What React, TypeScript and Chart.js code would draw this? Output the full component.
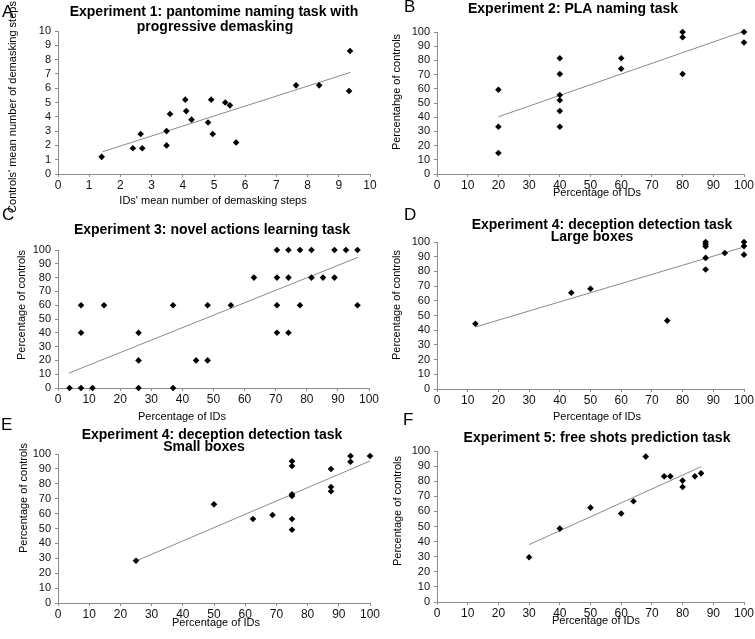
import React, { useEffect, useRef } from "react";
import { Chart, registerables } from "chart.js";
Chart.register(...registerables);

// ---------- Data ----------
// Panel A: Experiment 1 (pantomime naming, demasking steps)
const aIDs = [1.4, 2.4, 2.65, 2.7, 3.48, 3.48, 3.59, 4.08, 4.11, 4.28, 4.81, 4.91, 4.96, 5.36, 5.51, 5.71, 7.63, 8.37, 9.36, 9.33];
const aControls = [1.2, 1.8, 2.8, 1.8, 3.0, 2.0, 4.2, 5.2, 4.4, 3.8, 3.6, 5.2, 2.8, 5.0, 4.8, 2.2, 6.2, 6.2, 8.6, 5.8];
const aTrendX = [1.43, 9.38];
const aTrendY = [1.56, 7.11];

// Panel B: Experiment 2 (PLA naming)
const bIDs = [20, 20, 20, 40, 40, 40, 40, 40, 40, 60, 60, 80, 80, 80, 100, 100];
const bControls = [59.3, 33.3, 14.8, 81.5, 70.4, 55.6, 51.9, 44.4, 33.3, 81.5, 74.1, 100, 96.3, 70.4, 100, 92.6];
const bTrendX = [20, 100];
const bTrendY = [40.3, 100.5];

// Panel C: Experiment 3 (novel actions learning)
const cIDs = [
  70.4, 74.1, 77.8, 81.5, 88.9, 92.6, 96.3,
  63.0, 70.4, 74.1, 81.5, 85.2, 88.9,
  7.4, 14.8, 37.0, 48.1, 55.6, 70.4, 77.8, 96.3,
  7.4, 25.9, 70.4, 74.1,
  25.9, 44.4, 48.1,
  3.7, 7.4, 11.1, 25.9, 37.0,
];
const cControls = [
  100, 100, 100, 100, 100, 100, 100,
  80, 80, 80, 80, 80, 80,
  60, 60, 60, 60, 60, 60, 60, 60,
  40, 40, 40, 40,
  20, 20, 20,
  0, 0, 0, 0, 0,
];
const cTrendX = [3.5, 96.5];
const cTrendY = [10.8, 94.7];

// Panel D: Experiment 4, large boxes
const dIDs = [12.5, 43.75, 50, 75, 87.5, 87.5, 87.5, 87.5, 87.5, 93.75, 100, 100, 100];
const dControls = [44.4, 65.5, 68.2, 46.5, 100, 98.5, 97, 89.2, 81.3, 92.5, 100, 97.2, 91.4];
const dTrendX = [12.5, 100];
const dTrendY = [42.2, 96.6];

// Panel E: Experiment 4, small boxes
const eIDs = [25, 50, 62.5, 68.75, 75, 75, 75, 75, 75, 75, 87.5, 87.5, 87.5, 93.75, 93.75, 100];
const eControls = [28.4, 66.2, 56.4, 59.1, 95.1, 91.9, 73.0, 71.8, 56.4, 49.2, 89.9, 77.9, 75.0, 98.7, 94.8, 98.7];
const eTrendX = [25, 100];
const eTrendY = [28.2, 95.3];

// Panel F: Experiment 5 (free shots prediction)
const fIDs = [30, 40, 50, 60, 64, 68, 74, 76, 80, 80, 84, 86];
const fControls = [29.6, 48.6, 62.5, 58.6, 66.7, 96.3, 83.2, 83.2, 80.4, 76.2, 83.2, 85.2];
const fTrendX = [30, 86];
const fTrendY = [38.0, 89.6];

// Texts
const letters = ["A", "B", "C", "D", "E", "F"];
const titlesA = ["Experiment 1: pantomime naming task with", "progressive demasking"];
const titlesB = ["Experiment 2: PLA naming task"];
const titlesC = ["Experiment 3: novel actions learning task"];
const titlesD = ["Experiment 4: deception detection task", "Large boxes"];
const titlesE = ["Experiment 4: deception detection task", "Small boxes"];
const titlesF = ["Experiment 5: free shots prediction task"];
const xTitleA = "IDs' mean number of demasking steps";
const yTitleA = "Controls' mean number of demasking steps";
const xTitlePct = "Percentage of IDs";
const yTitleB = "Percentahge of controls";
const yTitlePct = "Percentage of controls";

// ---------- Layout / style ----------
const FAMILY = "'Liberation Sans', Arial, sans-serif";
const AXIS_COLOR = "#8c8c8c";

type Txt = { text: string; x: number; y: number; font: string; rotate?: number; baseline?: CanvasTextBaseline; align?: CanvasTextAlign };

const titleFont = `bold 14px ${FAMILY}`;
const axisFont = `11px ${FAMILY}`;
const letterFont = `17px ${FAMILY}`;

function pts(xs: number[], ys: number[]) {
  return xs.map((x, i) => ({ x, y: ys[i] }));
}

type Panel = {
  ox: number; oy: number; w: number; h: number;
  L: number; R: number; T: number; B: number;
  xMax: number; step: number;
  points: { x: number; y: number }[];
  trend: { x: number; y: number }[];
  texts: Txt[];
};

function mkTexts(letter: string, lx: number, ly: number, titles: string[], titlePos: number[][], xt: string, xtPos: number[], yt: string, ytPos: number[]): Txt[] {
  const arr: Txt[] = [];
  arr.push({ text: letter, x: lx, y: ly, font: letterFont, align: "left" });
  titles.forEach((t, i) => arr.push({ text: t, x: titlePos[i][0], y: titlePos[i][1], font: titleFont }));
  arr.push({ text: xt, x: xtPos[0], y: xtPos[1], font: axisFont, baseline: "middle" });
  arr.push({ text: yt, x: ytPos[0], y: ytPos[1], font: axisFont, baseline: "middle", rotate: -Math.PI / 2 });
  return arr;
}

const panels: Panel[] = [
  {
    ox: 0, oy: 0, w: 390, h: 218, L: 58, R: 370, T: 31, B: 174, xMax: 10, step: 1,
    points: pts(aIDs, aControls), trend: pts(aTrendX, aTrendY),
    texts: mkTexts(letters[0], 2, 17, titlesA, [[214, 16], [215, 31]], xTitleA, [213, 201], yTitleA, [13, 107]),
  },
  {
    ox: 375, oy: 0, w: 395, h: 218, L: 437, R: 744, T: 32, B: 174, xMax: 100, step: 10,
    points: pts(bIDs, bControls), trend: pts(bTrendX, bTrendY),
    texts: mkTexts(letters[1], 404, 12, titlesB, [[573, 13]], xTitlePct, [597, 193], yTitleB, [397, 92]),
  },
  {
    ox: 0, oy: 200, w: 390, h: 224, L: 58, R: 369, T: 250, B: 388, xMax: 100, step: 10,
    points: pts(cIDs, cControls), trend: pts(cTrendX, cTrendY),
    texts: mkTexts(letters[2], 2, 220, titlesC, [[212, 234]], xTitlePct, [182, 417], yTitlePct, [22, 305]),
  },
  {
    ox: 375, oy: 200, w: 395, h: 224, L: 437, R: 744, T: 242, B: 389, xMax: 100, step: 10,
    points: pts(dIDs, dControls), trend: pts(dTrendX, dTrendY),
    texts: mkTexts(letters[3], 404, 220, titlesD, [[602, 229], [592, 241]], xTitlePct, [597, 417], yTitlePct, [397, 305]),
  },
  {
    ox: 0, oy: 410, w: 390, h: 229, L: 58, R: 370, T: 454, B: 603, xMax: 100, step: 10,
    points: pts(eIDs, eControls), trend: pts(eTrendX, eTrendY),
    texts: mkTexts(letters[4], 1, 430, titlesE, [[212, 439], [204, 451]], xTitlePct, [216, 623], yTitlePct, [24, 498]),
  },
  {
    ox: 375, oy: 410, w: 395, h: 229, L: 437, R: 744, T: 451, B: 602, xMax: 100, step: 10,
    points: pts(fIDs, fControls), trend: pts(fTrendX, fTrendY),
    texts: mkTexts(letters[5], 403, 425, titlesF, [[597, 442]], xTitlePct, [596, 621], yTitlePct, [398, 511]),
  },
];

function makeChart(canvas: HTMLCanvasElement, p: Panel) {
  const textPlugin = {
    id: "panelText",
    afterDraw(chart: any) {
      const ctx = chart.ctx as CanvasRenderingContext2D;
      for (const t of p.texts) {
        ctx.save();
        ctx.font = t.font;
        ctx.fillStyle = "#000";
        ctx.textAlign = t.align || "center";
        ctx.textBaseline = t.baseline || "alphabetic";
        ctx.translate(t.x - p.ox, t.y - p.oy);
        if (t.rotate) ctx.rotate(t.rotate);
        ctx.fillText(t.text, 0, 0);
        ctx.restore();
      }
    },
  };
  const yWidth = p.L - p.ox;
  const xHeight = p.oy + p.h - p.B;
  return new Chart(canvas, {
    type: "scatter",
    data: {
      datasets: [
        {
          data: p.trend,
          showLine: true,
          borderColor: "#8a8a8a",
          borderWidth: 1,
          pointRadius: 0,
          order: 2,
        } as any,
        {
          data: p.points,
          pointStyle: "rectRot",
          pointRadius: 3.3,
          pointHoverRadius: 3.3,
          backgroundColor: "#000",
          borderColor: "#000",
          borderWidth: 0,
          clip: false,
          order: 1,
        } as any,
      ],
    },
    options: {
      responsive: false,
      animation: false,
      events: [],
      layout: { padding: { left: 0, top: p.T - p.oy, right: p.ox + p.w - p.R, bottom: 0 } },
      plugins: { legend: { display: false }, tooltip: { enabled: false }, title: { display: false } },
      scales: {
        x: {
          type: "linear",
          min: 0,
          max: p.xMax,
          ticks: { stepSize: p.step, autoSkip: false, color: "#111", font: { family: FAMILY, size: 12 }, padding: 1, maxRotation: 0 },
          grid: { display: true, drawOnChartArea: false, drawTicks: true, tickLength: 3, color: AXIS_COLOR },
          border: { display: true, color: AXIS_COLOR, width: 1 },
          afterFit: (s: any) => { s.height = xHeight; },
        },
        y: {
          type: "linear",
          min: 0,
          max: p.xMax,
          ticks: { stepSize: p.step, autoSkip: false, color: "#111", font: { family: FAMILY, size: 11 }, padding: 4 },
          grid: { display: true, drawOnChartArea: false, drawTicks: true, tickLength: 3, color: AXIS_COLOR },
          border: { display: true, color: AXIS_COLOR, width: 1 },
          afterFit: (s: any) => { s.width = yWidth; },
        },
      },
    } as any,
    plugins: [textPlugin as any],
  });
}

export default function App() {
  const refs = useRef<(HTMLCanvasElement | null)[]>([]);
  useEffect(() => {
    const charts = panels.map((p, i) => makeChart(refs.current[i] as HTMLCanvasElement, p));
    return () => charts.forEach((c) => c.destroy());
  }, []);
  return (
    <div style={{ position: "absolute", left: 0, top: 0, width: 755, height: 639, overflow: "hidden", background: "#fff" }}>
      {panels.map((p, i) => (
        <canvas
          key={i}
          ref={(el) => { refs.current[i] = el; }}
          width={p.w}
          height={p.h}
          style={{ position: "absolute", left: p.ox, top: p.oy, width: p.w, height: p.h }}
        />
      ))}
    </div>
  );
}
